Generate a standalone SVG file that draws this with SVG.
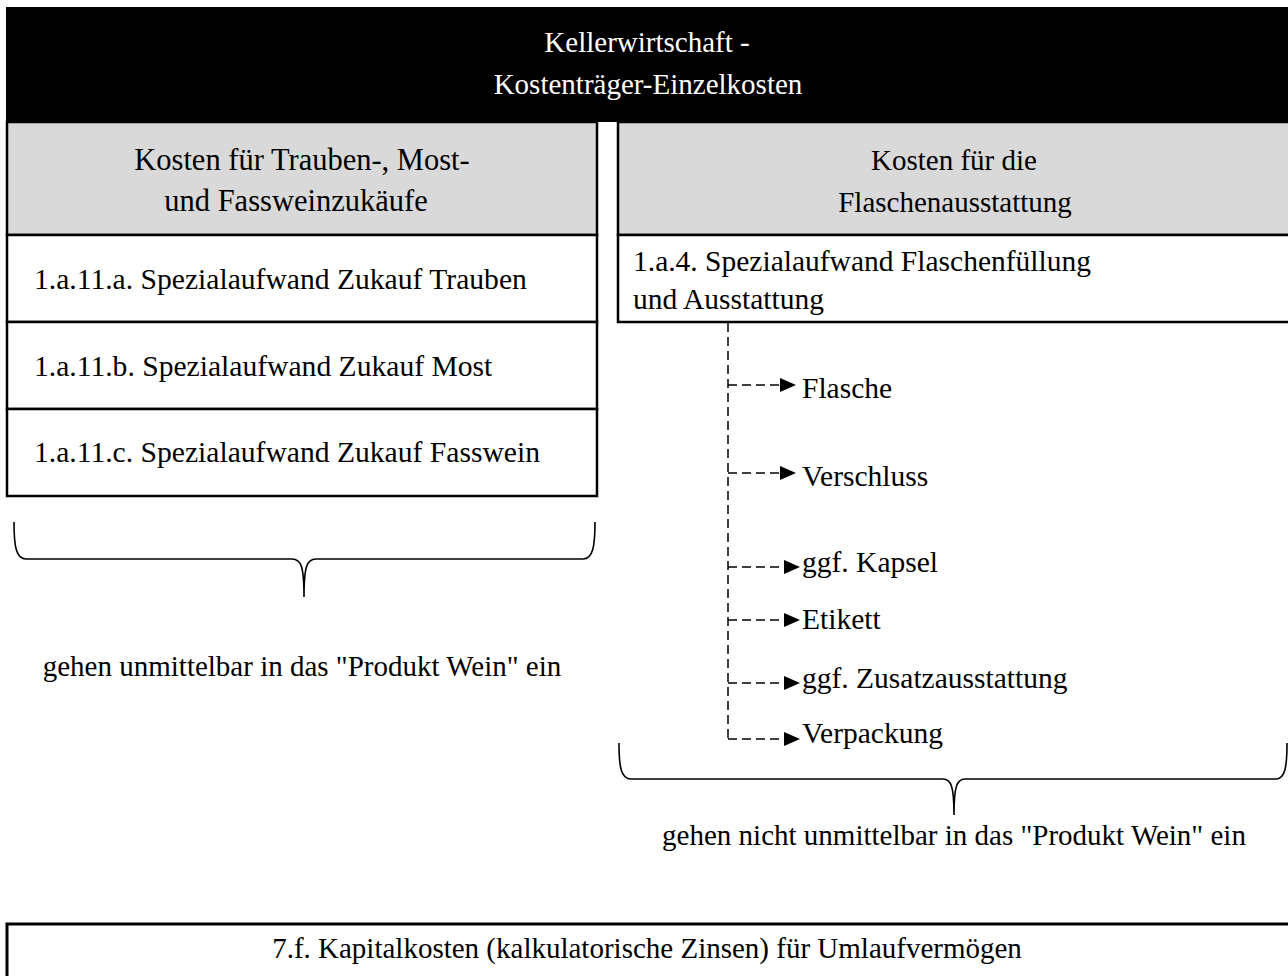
<svg xmlns="http://www.w3.org/2000/svg" width="1288" height="976" viewBox="0 0 1288 976">
<defs>
<style>
text{font-family:"Liberation Serif","Times New Roman",serif;font-size:29px;fill:#000}
.c{text-anchor:middle}
.w{fill:#fff}
.i{font-size:29.6px}
.g{font-size:30.5px}
.l{font-size:29.5px}
.box{fill:#fff;stroke:#000;stroke-width:2.5}
.gray{fill:#d9d9d9;stroke:#000;stroke-width:2.5}
.dash{fill:none;stroke:#000;stroke-width:1.5;stroke-dasharray:9,5}
.brace{fill:none;stroke:#000;stroke-width:1.6}
</style>
<marker id="ah" markerWidth="16" markerHeight="14" refX="0" refY="7" orient="auto" markerUnits="userSpaceOnUse">
<path d="M0,0 L16,7 L0,14 Z" fill="#000"/>
</marker>
</defs>
<rect width="1288" height="976" fill="#fff"/>
<g id="header">
<rect x="6" y="7" width="1284" height="115" fill="#000"/>
<text class="c w" x="647" y="52">Kellerwirtschaft -</text>
<text class="c w" x="648" y="94">Kostenträger-Einzelkosten</text>
</g>
<g id="left-head">
<rect class="gray" x="7" y="122" width="590" height="113"/>
<text class="c g" x="302" y="170">Kosten für Trauben-, Most-</text>
<text class="c g" x="296" y="211">und Fassweinzukäufe</text>
</g>
<g id="item-trauben">
<rect class="box" x="7" y="235" width="590" height="87"/>
<text class="i" x="34" y="289">1.a.11.a. Spezialaufwand Zukauf Trauben</text>
</g>
<g id="item-most">
<rect class="box" x="7" y="322" width="590" height="87"/>
<text class="i" x="34" y="376">1.a.11.b. Spezialaufwand Zukauf Most</text>
</g>
<g id="item-fasswein">
<rect class="box" x="7" y="409" width="590" height="87"/>
<text class="i" x="34" y="462">1.a.11.c. Spezialaufwand Zukauf Fasswein</text>
</g>
<g id="right-head">
<rect class="gray" x="618" y="122" width="680" height="113"/>
<text class="c" x="954" y="170">Kosten für die</text>
<text class="c" x="955" y="212">Flaschenausstattung</text>
</g>
<g id="item-flaschenfuellung">
<rect class="box" x="618" y="235" width="680" height="87"/>
<text class="l" x="633" y="271">1.a.4. Spezialaufwand Flaschenfüllung</text>
<text class="l" x="633" y="309">und Ausstattung</text>
</g>
<g id="connectors">
<path class="dash" d="M728,323 V740"/>
<path class="dash" d="M728,385 H780" marker-end="url(#ah)"/>
<path class="dash" d="M728,473 H780" marker-end="url(#ah)"/>
<path class="dash" d="M728,567 H784" marker-end="url(#ah)"/>
<path class="dash" d="M728,620 H784" marker-end="url(#ah)"/>
<path class="dash" d="M728,683 H784" marker-end="url(#ah)"/>
<path class="dash" d="M728,739 H784" marker-end="url(#ah)"/>
</g>
<g id="labels">
<text class="l" x="802" y="398">Flasche</text>
<text class="l" x="802" y="486">Verschluss</text>
<text class="l" x="802" y="572">ggf. Kapsel</text>
<text class="l" x="802" y="629">Etikett</text>
<text class="l" x="802" y="688">ggf. Zusatzausstattung</text>
<text class="l" x="802" y="743">Verpackung</text>
</g>
<g id="brace-left">
<path class="brace" d="M14,522 C14,546 16,559 26,559 L292,559 C301,559 304,566 304,597 C304,566 307,559 316,559 L583,559 C593,559 595,546 595,522"/>
<text class="c" x="302" y="676">gehen unmittelbar in das "Produkt Wein" ein</text>
</g>
<g id="brace-right">
<path class="brace" d="M619,743 C619,767 621,779 631,779 L943,779 C951,779 954,786 954,815 C954,786 957,779 965,779 L1276,779 C1285,779 1287,767 1287,743"/>
<text class="c" x="954" y="845">gehen nicht unmittelbar in das "Produkt Wein" ein</text>
</g>
<g id="kapitalkosten">
<rect x="7" y="924" width="1300" height="80" fill="#fff" stroke="#000" stroke-width="3"/>
<text class="c" x="647" y="958">7.f. Kapitalkosten (kalkulatorische Zinsen) für Umlaufvermögen</text>
</g>
</svg>
